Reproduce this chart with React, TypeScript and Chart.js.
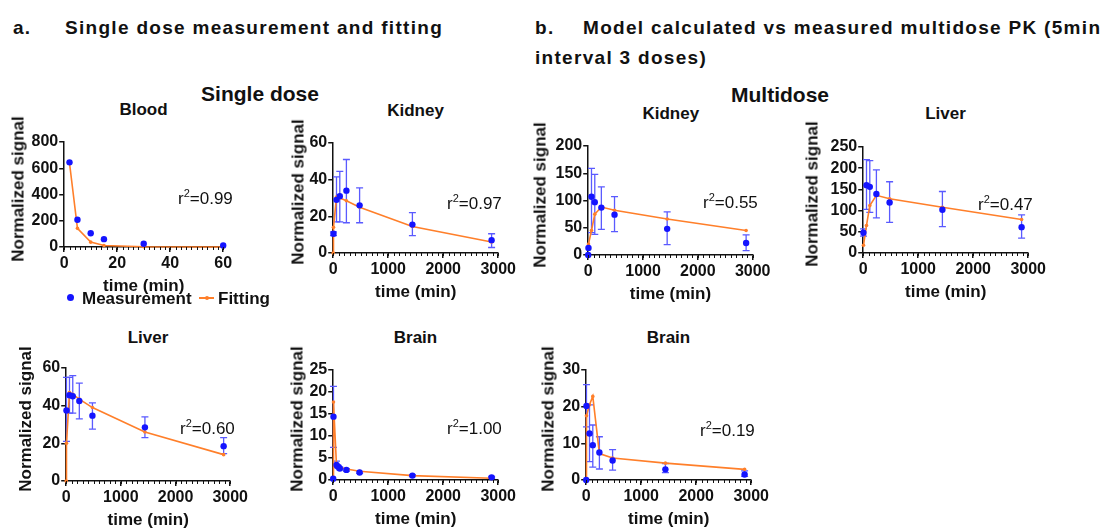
import React, { useEffect, useRef } from "react";
import { Chart, registerables } from "chart.js";

Chart.register(...registerables);

const FONT = '"Liberation Sans", Arial, Helvetica, sans-serif';
Chart.defaults.font.family = FONT;

// ---------------- data ----------------
// Single dose – Blood
const bloodTime = [2, 5, 10, 15, 30, 60];
const bloodMeasured = [645, 208, 105, 60, 25, 12];
const bloodFitTime = [2, 5, 10, 15, 30, 60];
const bloodFitted = [640, 142, 37, 12, 2, 0.5];

// Single dose – Kidney
const sKidneyTime = [5, 60, 120, 240, 480, 1440, 2880];
const sKidneyMeasured = [10.5, 29, 31, 34, 26, 15.5, 7];
const sKidneyLow = [9.5, 17, 17, 16.5, 16.5, 9.5, 3];
const sKidneyHigh = [11.5, 41.5, 44.5, 51, 35.5, 22, 10.5];
const sKidneyFitTime = [0, 5, 60, 120, 240, 480, 1440, 2880];
const sKidneyFitted = [0, 14, 30.5, 30, 28.5, 25, 14.5, 6];

// Single dose – Liver
const sLiverTime = [5, 60, 120, 240, 480, 1440, 2880];
const sLiverMeasured = [37.5, 45.5, 45, 42.5, 34.7, 28.5, 18.5];
const sLiverLow = [21, 36, 36, 33, 27.5, 23, 14.5];
const sLiverHigh = [55, 55, 56, 52, 41.5, 34, 23];
const sLiverFitTime = [0, 5, 60, 120, 240, 480, 1440, 2880];
const sLiverFitted = [0, 20, 47, 46, 43.5, 39, 26, 14];

// Single dose – Brain
const sBrainTime = [0, 5, 60, 90, 120, 240, 480, 1440, 2880];
const sBrainMeasured = [0.3, 14.4, 3.4, 3.0, 2.6, 2.3, 1.7, 1.0, 0.6];
const sBrainLow = [null, 7.4, 2.8, 2.7, 2.3, 2.0, 1.5, 0.8, 0.4];
const sBrainHigh = [null, 21.3, 4.3, 3.3, 2.9, 2.6, 1.9, 1.2, 0.8];
const sBrainFitTime = [0, 5, 60, 120, 240, 480, 1440, 2880];
const sBrainFitted = [0, 17.7, 3.3, 2.9, 2.5, 2.0, 1.0, 0.4];

// Multidose – Kidney
const mKidneyTime = [0, 5, 60, 120, 240, 480, 1440, 2880];
const mKidneyMeasured = [0, 13, 107, 97, 87, 74, 48, 22];
const mKidneyLow = [null, null, 41, 38, 47, 43, 19, 8];
const mKidneyHigh = [null, null, 159, 148, 125, 107, 79, 37];
const mKidneyFitTime = [5, 60, 120, 240, 480, 1440, 2880];
const mKidneyFitted = [20, 45, 75, 88, 82, 66, 45];

// Multidose – Liver
const mLiverTime = [5, 60, 120, 240, 480, 1440, 2880];
const mLiverMeasured = [48, 160, 156, 139, 119, 102, 61];
const mLiverLow = [40, 103, 96, 83, 72, 62, 35];
const mLiverHigh = [57, 220, 218, 196, 168, 145, 90];
const mLiverFitTime = [5, 60, 120, 240, 480, 1440, 2880];
const mLiverFitted = [18, 65, 112, 136, 128, 108, 79];

// Multidose – Brain
const mBrainTime = [0, 5, 60, 120, 240, 480, 1440, 2880];
const mBrainMeasured = [0, 20.2, 12.7, 9.5, 7.5, 5.3, 2.9, 1.5];
const mBrainLow = [null, 14.5, 5, 3.5, 3, 2.7, 2, 1];
const mBrainHigh = [null, 26, 20.5, 15, 11.8, 8.3, 4.5, 2.5];
const mBrainFitTime = [0, 5, 60, 120, 240, 480, 1440, 2880];
const mBrainFitted = [0, 17.5, 20.5, 22.8, 7.2, 6, 4.6, 2.9];

// ---------------- styles ----------------
const BLUE = "#1414ff";
const ERR = "#5a5aff";
const ORANGE = "#ff7f2a";
const INK = "#111111";

const PADT = 12;
const PADR = 26;
const XH = 50;

const errorBarPlugin = {
  id: "errorBars",
  beforeDatasetsDraw(chart: any) {
    const ctx = chart.ctx;
    const xs = chart.scales.x;
    const ys = chart.scales.y;
    chart.data.datasets.forEach((ds: any) => {
      const lo = ds.errLo;
      const hi = ds.errHi;
      if (!lo || !hi) return;
      ctx.save();
      ctx.strokeStyle = ERR;
      ctx.lineWidth = 1.3;
      ds.data.forEach((pt: any, j: number) => {
        if (lo[j] == null || hi[j] == null) return;
        const x = xs.getPixelForValue(pt.x);
        const y1 = ys.getPixelForValue(lo[j]);
        const y2 = ys.getPixelForValue(hi[j]);
        ctx.beginPath();
        ctx.moveTo(x, y1);
        ctx.lineTo(x, y2);
        ctx.moveTo(x - 3.5, y1);
        ctx.lineTo(x + 3.5, y1);
        ctx.moveTo(x - 3.5, y2);
        ctx.lineTo(x + 3.5, y2);
        ctx.stroke();
      });
      ctx.restore();
    });
  },
};

const minorTickPlugin = {
  id: "minorTicks",
  afterDraw(chart: any, _args: any, opts: any) {
    const step = opts && opts.step;
    if (!step) return;
    const xs = chart.scales.x;
    const ctx = chart.ctx;
    const y = chart.chartArea.bottom;
    ctx.save();
    ctx.strokeStyle = INK;
    ctx.lineWidth = 1;
    ctx.beginPath();
    for (let v = xs.min; v <= xs.max + 1e-9; v += step) {
      const px = Math.round(xs.getPixelForValue(v)) + 0.5;
      ctx.moveTo(px, y);
      ctx.lineTo(px, y + 3);
    }
    ctx.stroke();
    ctx.restore();
  },
};

type PanelDef = {
  title: string;
  r2: string;
  t: number[];
  y: number[];
  lo: (number | null)[] | null;
  hi: (number | null)[] | null;
  ft: number[];
  fy: number[];
  xMax: number;
  xStep: number;
  xMinor: number;
  yMax: number;
  yStep: number;
  axisX: number;
  xEnd: number;
  yTop: number;
  y0: number;
  yTitle: number;
  titleY: number;
  r2X: number;
  r2Y: number;
};

const panels: PanelDef[] = [
  { title: "Blood", r2: "0.99", t: bloodTime, y: bloodMeasured, lo: null, hi: null, ft: bloodFitTime, fy: bloodFitted,
    xMax: 60, xStep: 20, xMinor: 2, yMax: 800, yStep: 200,
    axisX: 64, xEnd: 223, yTop: 142, y0: 247, yTitle: 46, titleY: 109, r2X: 178, r2Y: 198 },
  { title: "Kidney", r2: "0.97", t: sKidneyTime, y: sKidneyMeasured, lo: sKidneyLow, hi: sKidneyHigh, ft: sKidneyFitTime, fy: sKidneyFitted,
    xMax: 3000, xStep: 1000, xMinor: 100, yMax: 60, yStep: 20,
    axisX: 333, xEnd: 498, yTop: 143, y0: 253, yTitle: 35, titleY: 110, r2X: 447, r2Y: 203 },
  { title: "Kidney", r2: "0.55", t: mKidneyTime, y: mKidneyMeasured, lo: mKidneyLow, hi: mKidneyHigh, ft: mKidneyFitTime, fy: mKidneyFitted,
    xMax: 3000, xStep: 1000, xMinor: 100, yMax: 200, yStep: 50,
    axisX: 588.5, xEnd: 753, yTop: 146, y0: 255, yTitle: 49, titleY: 113, r2X: 703, r2Y: 202 },
  { title: "Liver", r2: "0.47", t: mLiverTime, y: mLiverMeasured, lo: mLiverLow, hi: mLiverHigh, ft: mLiverFitTime, fy: mLiverFitted,
    xMax: 3000, xStep: 1000, xMinor: 100, yMax: 250, yStep: 50,
    axisX: 863, xEnd: 1028, yTop: 147, y0: 253, yTitle: 51, titleY: 113, r2X: 978, r2Y: 204 },
  { title: "Liver", r2: "0.60", t: sLiverTime, y: sLiverMeasured, lo: sLiverLow, hi: sLiverHigh, ft: sLiverFitTime, fy: sLiverFitted,
    xMax: 3000, xStep: 1000, xMinor: 100, yMax: 60, yStep: 20,
    axisX: 66, xEnd: 230, yTop: 368, y0: 481, yTitle: 41, titleY: 337, r2X: 180, r2Y: 428 },
  { title: "Brain", r2: "1.00", t: sBrainTime, y: sBrainMeasured, lo: sBrainLow, hi: sBrainHigh, ft: sBrainFitTime, fy: sBrainFitted,
    xMax: 3000, xStep: 1000, xMinor: 100, yMax: 25, yStep: 5,
    axisX: 333, xEnd: 498, yTop: 370, y0: 480, yTitle: 36, titleY: 337, r2X: 447, r2Y: 428 },
  { title: "Brain", r2: "0.19", t: mBrainTime, y: mBrainMeasured, lo: mBrainLow, hi: mBrainHigh, ft: mBrainFitTime, fy: mBrainFitted,
    xMax: 3000, xStep: 1000, xMinor: 100, yMax: 30, yStep: 10,
    axisX: 586, xEnd: 751, yTop: 370, y0: 480, yTitle: 38, titleY: 337, r2X: 700, r2Y: 430 },
];

function Panel({ p }: { p: PanelDef }) {
  const ref = useRef<HTMLCanvasElement | null>(null);
  const yw = p.yTitle + 10.2;
  const left = p.axisX - yw;
  const top = p.yTop - PADT;
  const W = Math.round(yw + (p.xEnd - p.axisX) + PADR);
  const H = Math.round(PADT + (p.y0 - p.yTop) + XH);
  const rightPad = W - yw - (p.xEnd - p.axisX);
  const bottomH = H - PADT - (p.y0 - p.yTop);

  useEffect(() => {
    if (!ref.current) return;
    const tickFont = { size: 16, weight: "bold" as const, family: FONT };
    const titleFont = { size: 17, weight: "bold" as const, family: FONT };
    const plain = (v: any) => String(v);
    const chart = new Chart(ref.current, {
      type: "scatter",
      data: {
        datasets: [
          {
            label: "Measurement",
            data: p.t.map((t, i) => ({ x: t, y: p.y[i] })),
            showLine: false,
            pointRadius: 3.2,
            pointHoverRadius: 3.2,
            backgroundColor: BLUE,
            borderColor: BLUE,
            borderWidth: 0,
            clip: false,
            errLo: p.lo,
            errHi: p.hi,
          } as any,
          {
            label: "Fitting",
            data: p.ft.map((t, i) => ({ x: t, y: p.fy[i] })),
            showLine: true,
            borderColor: ORANGE,
            borderWidth: 1.6,
            pointRadius: 1.8,
            pointHoverRadius: 1.8,
            backgroundColor: ORANGE,
            pointBorderWidth: 0,
            tension: 0,
            clip: false,
          } as any,
        ],
      },
      options: {
        responsive: false,
        animation: false,
        events: [],
        layout: { padding: { left: 0, top: PADT, right: rightPad, bottom: 0 } },
        plugins: {
          legend: { display: false },
          tooltip: { enabled: false },
          minorTicks: { step: p.xMinor },
        } as any,
        scales: {
          x: {
            type: "linear",
            min: 0,
            max: p.xMax,
            afterFit: (s: any) => { s.height = bottomH; },
            ticks: { stepSize: p.xStep, font: tickFont, color: INK, padding: 2, maxRotation: 0, autoSkip: false, callback: plain },
            grid: { display: true, drawOnChartArea: false, drawTicks: true, tickLength: 5, color: INK, lineWidth: 1.5 },
            border: { display: true, color: INK, width: 1.5 },
            title: { display: true, text: "time (min)", font: titleFont, color: INK, padding: 0 },
          },
          y: {
            type: "linear",
            min: 0,
            max: p.yMax,
            afterFit: (s: any) => { s.width = yw; },
            ticks: { stepSize: p.yStep, font: tickFont, color: INK, padding: 1, autoSkip: false, callback: plain },
            grid: { display: true, drawOnChartArea: false, drawTicks: true, tickLength: 5, color: INK, lineWidth: 1.5 },
            border: { display: true, color: INK, width: 1.5 },
          },
        },
      },
      plugins: [errorBarPlugin, minorTickPlugin],
    });
    return () => chart.destroy();
  }, []);

  return (
    <canvas
      ref={ref}
      width={W}
      height={H}
      style={{ position: "absolute", left, top, width: W, height: H }}
    />
  );
}

const textBase: React.CSSProperties = {
  position: "absolute",
  fontFamily: FONT,
  color: INK,
  lineHeight: 1,
  whiteSpace: "nowrap",
};

function CText({ x, y, size, bold, rotate, children }: any) {
  return (
    <div
      style={{
        ...textBase,
        left: x,
        top: y,
        fontSize: size,
        fontWeight: bold ? 700 : 400,
        transform: `translate(-50%, -50%)${rotate ? ` rotate(${rotate}deg)` : ""}`,
      }}
    >
      {children}
    </div>
  );
}

function LText({ x, y, size, bold, spacing, children }: any) {
  return (
    <div style={{ ...textBase, left: x, top: y, fontSize: size, fontWeight: bold ? 700 : 400, letterSpacing: spacing || 0, transform: "translateY(-50%)" }}>
      {children}
    </div>
  );
}

export default function App() {
  return (
    <div style={{ position: "absolute", left: 0, top: 0, width: 1104, height: 529, background: "#fff", overflow: "hidden" }}>
      <LText x={13} y={27} size={19} bold spacing={1.3}>a.</LText>
      <LText x={65} y={27} size={19} bold spacing={1.3}>Single dose measurement and fitting</LText>
      <LText x={535} y={27} size={19} bold spacing={1.3}>b.</LText>
      <LText x={583} y={27} size={19} bold spacing={1.3}>Model calculated vs measured multidose PK (5min</LText>
      <LText x={535} y={57} size={19} bold spacing={1.3}>interval 3 doses)</LText>

      <CText x={260} y={93} size={21} bold>Single dose</CText>
      <CText x={780} y={94} size={21} bold>Multidose</CText>

      {panels.map((p, i) => (
        <React.Fragment key={i}>
          <Panel p={p} />
          <CText x={(p.axisX + p.xEnd) / 2} y={p.titleY} size={17} bold>{p.title}</CText>
          <CText x={p.axisX - p.yTitle} y={(p.yTop + p.y0) / 2 - 6} size={17} bold rotate={-90}>Normalized signal</CText>
          <LText x={p.r2X} y={p.r2Y} size={17}>
            r<span style={{ fontSize: 11, position: "relative", top: -7 }}>2</span>={p.r2}
          </LText>
        </React.Fragment>
      ))}

      {/* legend of the Blood panel */}
      <div style={{ position: "absolute", left: 66.5, top: 294, width: 7, height: 7, borderRadius: "50%", background: BLUE }} />
      <LText x={82} y={298} size={17} bold>Measurement</LText>
      <div style={{ position: "absolute", left: 199, top: 297.2, width: 15, height: 1.6, background: ORANGE }} />
      <div style={{ position: "absolute", left: 205, top: 296, width: 4, height: 4, borderRadius: "50%", background: ORANGE }} />
      <LText x={218} y={298} size={17} bold>Fitting</LText>
    </div>
  );
}
